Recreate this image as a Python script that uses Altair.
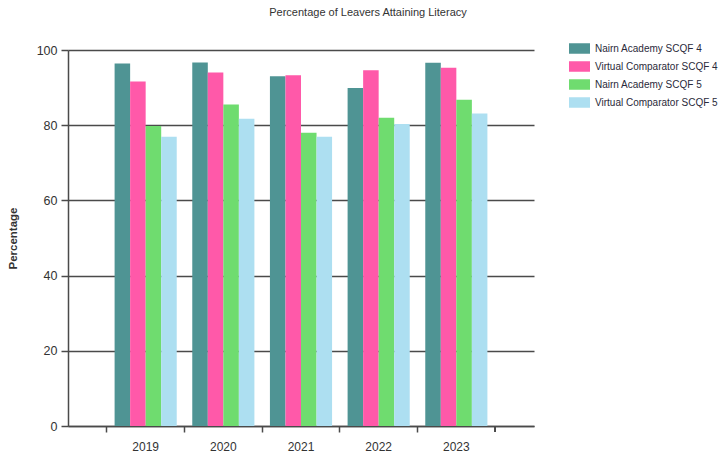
import altair as alt
import pandas as pd

# Leavers attaining literacy, by year and comparison group
years = ["2019", "2020", "2021", "2022", "2023"]
series = [
    "Nairn Academy SCQF 4",
    "Virtual Comparator SCQF 4",
    "Nairn Academy SCQF 5",
    "Virtual Comparator SCQF 5",
]
nairn_scqf4 = [96.4, 96.7, 93.0, 89.9, 96.6]
virtual_scqf4 = [91.6, 94.0, 93.3, 94.6, 95.3]
nairn_scqf5 = [79.8, 85.5, 78.0, 82.0, 86.8]
virtual_scqf5 = [76.9, 81.7, 76.9, 80.3, 83.1]
colors = ["#4F9494", "#FF59A9", "#6FDC6F", "#ADDFF1"]
y_ticks = [0, 20, 40, 60, 80, 100]

rows = []
for name, vals in zip(series, [nairn_scqf4, virtual_scqf4, nairn_scqf5, virtual_scqf5]):
    for yr, v in zip(years, vals):
        rows.append({"year": yr, "series": name, "value": v})
df = pd.DataFrame(rows)

FONT = "Liberation Sans, Arial, sans-serif"
LINE = "#4a4a4a"

x_scale = alt.Scale(domain=years, paddingInner=0, paddingOuter=0.5)

bars = alt.Chart(df).mark_bar().encode(
    x=alt.X(
        "year:N",
        scale=x_scale,
        sort=years,
        axis=alt.Axis(
            title=None,
            bandPosition=0,
            labelAngle=0,
            labelFont=FONT,
            labelFontSize=12,
            labelColor="#333333",
            labelPadding=9,
            tickSize=6,
            tickColor=LINE,
            tickWidth=1.5,
            domainColor=LINE,
            domainWidth=1.5,
            grid=False,
        ),
    ),
    xOffset=alt.XOffset(
        "series:N",
        sort=series,
        scale=alt.Scale(domain=series, paddingInner=0, paddingOuter=0.5),
    ),
    y=alt.Y(
        "value:Q",
        scale=alt.Scale(domain=[0, 100], nice=False),
        axis=alt.Axis(
            title="Percentage",
            values=y_ticks,
            grid=True,
            gridColor=LINE,
            gridWidth=1.5,
            tickSize=7,
            tickColor=LINE,
            tickWidth=1.5,
            domainColor=LINE,
            domainWidth=1.5,
            labelFont=FONT,
            labelFontSize=12.5,
            labelColor="#333333",
            labelPadding=4,
            titleFont=FONT,
            titleFontSize=11.5,
            titleFontWeight="bold",
            titleColor="#333333",
            titleX=-55,
            titleY=188,
            titleAngle=270,
            titleAlign="center",
            titleBaseline="middle",
        ),
    ),
    color=alt.Color(
        "series:N",
        sort=series,
        scale=alt.Scale(domain=series, range=colors),
        legend=alt.Legend(
            title=None,
            orient="none",
            legendX=501,
            legendY=-12,
            symbolType="M-1,-0.5H1V0.5H-1Z",
            symbolSize=441,
            symbolStrokeWidth=0,
            symbolOpacity=1,
            labelFont=FONT,
            labelFontSize=10,
            labelColor="#2a2a3a",
            labelOffset=5,
            rowPadding=2,
            labelLimit=200,
        ),
    ),
)

# closing tick at the right edge of the last category band
end_tick = alt.Chart(df).transform_filter(
    alt.datum.year == years[-1]
).mark_rule(color=LINE, strokeWidth=1.5).encode(
    x=alt.X("year:N", scale=x_scale, sort=years, bandPosition=1),
    y=alt.value(376),
    y2=alt.value(382),
)

chart = (
    alt.layer(bars, end_tick)
    .properties(
        width=466,
        height=376,
        autosize=alt.AutoSizeParams(type="none"),
        padding={"left": 68, "top": 50, "right": 190, "bottom": 36},
        title=alt.TitleParams(
            "Percentage of Leavers Attaining Literacy",
            font=FONT,
            fontSize=11,
            fontWeight="normal",
            color="#333333",
            anchor="middle",
            dx=67,
            dy=5,
            offset=25,
        ),
    )
    .configure_view(stroke=None)
    .configure_axis(gridCap="butt")
)

chart.save("out.html", embed_options={"renderer": "svg", "actions": False})
